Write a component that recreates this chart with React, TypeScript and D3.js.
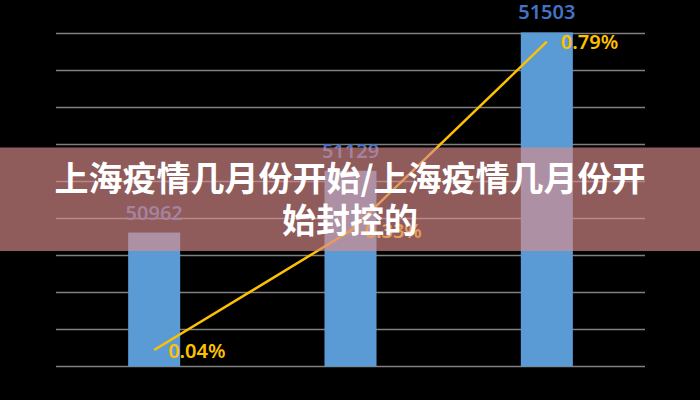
import * as d3 from "d3";

const categories = ["A", "B", "C"];
const population = [50962, 51129, 51503];
const growth = [0.04, 0.33, 0.79];
const growthLabels = ["0.04%", "0.33%", "0.79%"];
const titleLines = ["上海疫情几月份开始/上海疫情几月份开", "始封控的"];

const W = 700;
const H = 400;

export default function App() {
  const x = d3
    .scaleBand()
    .domain(categories)
    .range([56, 645])
    .paddingInner(0.735)
    .paddingOuter(0.3675);
  const y = d3.scaleLinear().domain([50600, 51500]).range([366.5, 33.5]);
  const y2 = d3.scaleLinear().domain([0, 0.81]).range([366.5, 33.5]);

  const cx = (c: string) => (x(c) ?? 0) + x.bandwidth() / 2;

  const linePath = d3
    .line<number>()
    .x((_, i) => cx(categories[i]))
    .y((d) => y2(d))(growth);

  return (
    <svg
      width={W}
      height={H}
      style={{ position: "fixed", left: 0, top: 0, background: "#000" }}
    >
      <rect width={W} height={H} fill="#000" />
      {y.ticks(9).map((t) => (
        <line
          key={t}
          x1={56}
          x2={645}
          y1={y(t)}
          y2={y(t)}
          stroke="#808080"
          strokeWidth={1.5}
        />
      ))}
      {population.map((v, i) => (
        <rect
          key={categories[i]}
          x={x(categories[i])}
          y={y(v)}
          width={x.bandwidth()}
          height={y(50600) - y(v)}
          fill="#5B9BD5"
        />
      ))}
      <path d={linePath ?? ""} fill="none" stroke="#FFC000" strokeWidth={2.5} />
      {population.map((v, i) => (
        <text
          key={"p" + i}
          x={cx(categories[i])}
          y={y(v) - 13}
          textAnchor="middle"
          fontFamily="Noto Sans"
          fontWeight={600}
          fontSize={20}
          fill="#4472C4"
        >
          {v}
        </text>
      ))}
      {growth.map((g, i) => (
        <text
          key={"g" + i}
          x={cx(categories[i]) + 14}
          y={y2(g)}
          dominantBaseline="central"
          fontFamily="Noto Sans"
          fontWeight={600}
          fontSize={20}
          fill="#FFC000"
        >
          {growthLabels[i]}
        </text>
      ))}
      {/* title banner */}
      <rect x={0} y={147.5} width={W} height={103.5} fill="rgb(217,138,138)" fillOpacity={0.66} />
      {titleLines.map((t, i) => (
        <text
          key={t}
          x={350}
          y={191 + i * 42}
          textAnchor="middle"
          fontFamily="Noto Sans CJK SC"
          fontWeight="bold"
          fontSize={34}
          fill="#fff"
        >
          {t}
        </text>
      ))}
    </svg>
  );
}
